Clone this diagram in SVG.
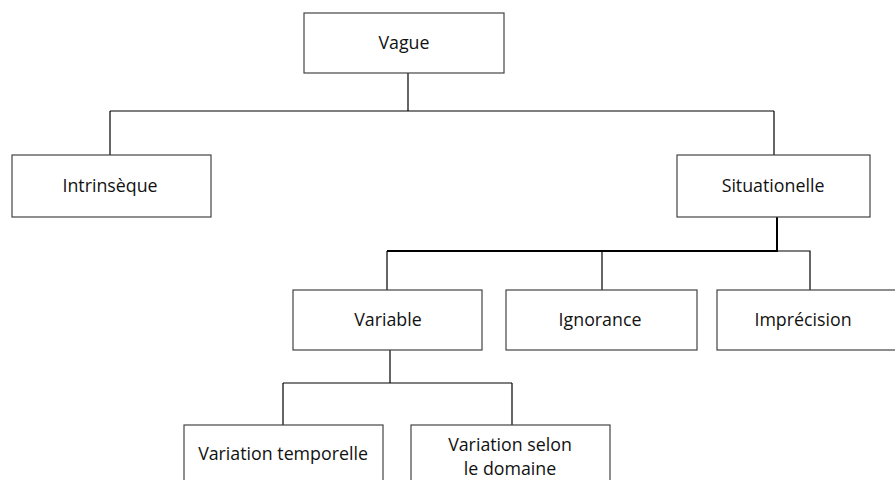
<svg xmlns="http://www.w3.org/2000/svg" width="895" height="480" viewBox="0 0 895 480">
<style>
.box{fill:#fff;stroke:#444;stroke-width:1.2}
.lbl{font-family:"Open Sans","Liberation Sans",sans-serif;font-size:17.8px;fill:#111;text-anchor:middle}
.c{fill:none;stroke:#000;stroke-width:1.2}
.cb{fill:none;stroke:#000;stroke-width:2}
</style>
<rect width="895" height="480" fill="#fff"/>
<g id="connectors">
<path class="c" d="M408 73V111M110 111H774M110 111V155M774 111V155"/>
<path class="cb" d="M777 217V251H387"/>
<path class="c" d="M777 251H810V290M387 251V290M602 251V290"/>
<path class="c" d="M390 350V383M283 383H512M283 383V425M512 383V425"/>
</g>
<g id="vague"><rect class="box" x="304" y="13" width="200" height="60"/><text class="lbl" x="404" y="49">Vague</text></g>
<g id="intrinseque"><rect class="box" x="12" y="155" width="199" height="62"/><text class="lbl" x="110" y="192">Intrinsèque</text></g>
<g id="situationelle"><rect class="box" x="677" y="155" width="193" height="62"/><text class="lbl" x="773" y="192">Situationelle</text></g>
<g id="variable"><rect class="box" x="293" y="290" width="189" height="60"/><text class="lbl" x="388" y="326">Variable</text></g>
<g id="ignorance"><rect class="box" x="506" y="290" width="191" height="60"/><text class="lbl" x="600" y="326">Ignorance</text></g>
<g id="imprecision"><rect class="box" x="717" y="290" width="182" height="60"/><text class="lbl" x="803" y="326">Imprécision</text></g>
<g id="variation-temporelle"><rect class="box" x="184" y="425" width="199" height="60"/><text class="lbl" x="283" y="460">Variation temporelle</text></g>
<g id="variation-selon"><rect class="box" x="411" y="425" width="199" height="60"/><text class="lbl" x="510" y="451">Variation selon</text><text class="lbl" x="510" y="475">le domaine</text></g>
</svg>
